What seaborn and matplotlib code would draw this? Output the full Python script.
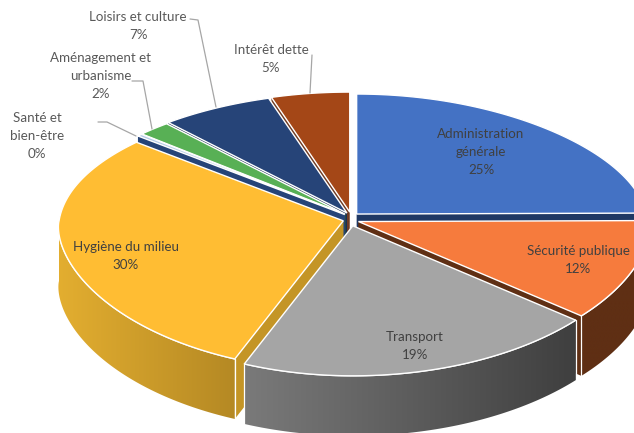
import numpy as np
import matplotlib
matplotlib.use("Agg")
import matplotlib.pyplot as plt
import matplotlib.colors as mcolors
from matplotlib.patches import Polygon
import seaborn as sns

categories = ["Administration\ngénérale", "Sécurité publique", "Transport", "Hygiène du milieu",
              "Santé et\nbien-être", "Aménagement et\nurbanisme", "Loisirs et culture", "Intérêt dette"]
shares = [25, 12, 19, 30, 0.3, 2, 7, 5]
top_colors = ["#4472c4", "#f67b3d", "#a5a5a5", "#ffbd33", "#b4cbe6", "#58b055", "#264478", "#a44717"]
wall_left = ["#1f3864", "#5f2f14", "#7a7a7a", "#e3ae30", "#264478", "#3e7a2a", "#1a2f55", "#6f3a22"]
wall_right = ["#1f3864", "#5f2f14", "#3f3f3f", "#b58924", "#264478", "#3e7a2a", "#1a2f55", "#6f3a22"]

label_pos = [(481, 152), (578, 260), (415, 346), (126, 256), (37, 136), (101, 76), (138, 26), (271, 59)]
leaders = [None, None, None, None,
           [(98, 122), (107, 122), (136, 136)],
           [(132, 81), (143, 81), (152, 129)],
           [(190, 19), (198, 20), (216, 107)],
           [(312, 55), (310, 93)]]
draw_order = [7, 6, 5, 4, 0, 3, 1, 2]

CX, CY = 351, 219
RX, RY_BACK, RY_FRONT = 290, 120, 150
DEPTH = 60
EXPLODE_X, EXPLODE_Y = 8, 7


def rim(theta):
    # perspective du disque: arriere plus petit, avant plus grand
    c, s = np.cos(theta), np.sin(theta)
    scale = 1 - 0.15 * np.maximum(c, 0) + 0.07 * np.maximum(-c, 0)
    scale = np.where(s < 0, scale * (0.98 + 0.045 * np.maximum(c, 0)), scale)
    x = RX * scale * s
    y = np.where(c > 0, -RY_BACK * np.abs(c) ** 0.9, RY_FRONT * np.abs(c) ** 1.2)
    return x, y


def draw_slice(ax, i, t0, t1):
    mid = (t0 + t1) / 2
    ax0 = CX + EXPLODE_X * np.sin(mid)
    ay0 = CY - EXPLODE_Y * np.cos(mid)
    th = np.linspace(t0, t1, 120)
    rx, ry = rim(th)
    xs, ys = ax0 + rx, ay0 + ry

    # parois radiales
    for k in [0, -1]:
        ax.fill([ax0, xs[k], xs[k], ax0], [ay0, ys[k], ys[k] + DEPTH, ay0 + DEPTH],
                color=wall_right[i] if i != 3 else "#c49526", lw=0, zorder=i_z[i])

    # paroi exterieure, avec un degrade horizontal
    front = (th >= np.pi / 2) & (th <= 3 * np.pi / 2)
    fx, fy = xs[front], ys[front]
    if len(fx) > 1:
        cmap = mcolors.LinearSegmentedColormap.from_list("w", [wall_left[i], wall_right[i]])
        outline = np.c_[np.r_[fx, fx[::-1]], np.r_[fy, fy[::-1] + DEPTH]]
        patch = Polygon(outline, closed=True, transform=ax.transData)
        im = ax.imshow(np.linspace(0, 1, 256)[None, :], cmap=cmap, aspect="auto",
                       extent=(fx.min(), fx.max(), fy.max() + DEPTH, fy.min()), zorder=i_z[i])
        im.set_clip_path(patch)
        ax.plot(fx, fy, color="white", lw=1.0, zorder=i_z[i])
        for k in [0, -1]:
            if abs(th[front][k] - 3 * np.pi / 2) > 0.05:
                ax.plot([fx[k], fx[k]], [fy[k], fy[k] + DEPTH], color="white", lw=0.9, zorder=i_z[i])

    ax.fill(np.r_[ax0, xs], np.r_[ay0, ys], facecolor=top_colors[i], edgecolor="white", lw=1.0,
            joinstyle="miter", zorder=i_z[i] + 0.1)


sns.set_theme(style="white")
plt.rcParams["font.family"] = ["Lato", "DejaVu Sans"]

fig = plt.figure(figsize=(6.34, 4.33), dpi=100)
ax = fig.add_axes([0, 0, 1, 1])
ax.set_xlim(0, 634)
ax.set_ylim(433, 0)
ax.set_autoscale_on(False)
ax.axis("off")

edges = 2 * np.pi * np.r_[0, np.cumsum(shares)] / np.sum(shares)
i_z = {i: 2 + n for n, i in enumerate(draw_order)}
for i in draw_order:
    draw_slice(ax, i, edges[i], edges[i + 1])

for i, name in enumerate(categories):
    x, y = label_pos[i]
    ax.text(x, y, f"{name}\n{shares[i]:.0f}%", ha="center", va="center", fontsize=9.6,
            color="#404040" if i < 4 else "#595959", linespacing=1.6, zorder=20)
    if leaders[i] is not None:
        ax.plot(*zip(*leaders[i]), color="#a6a6a6", lw=0.9, zorder=15)

fig.savefig("out.png", dpi=100)
